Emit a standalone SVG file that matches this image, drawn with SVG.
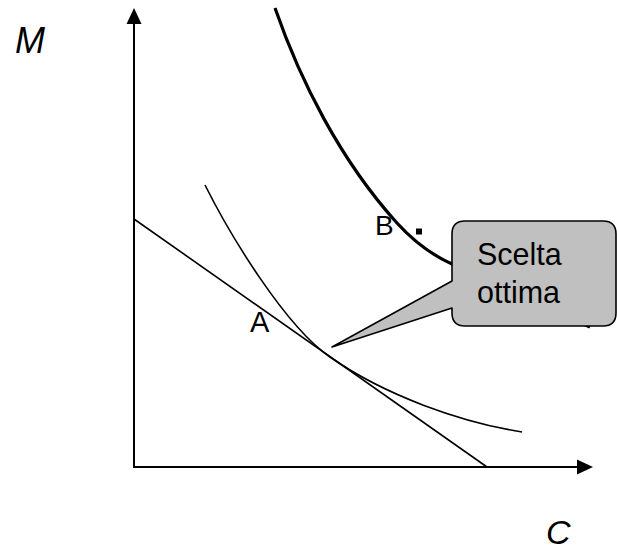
<svg xmlns="http://www.w3.org/2000/svg" width="617" height="550" viewBox="0 0 617 550">
<style>
.lbl{font-family:"Liberation Sans",Arial,sans-serif;fill:#000}
.ax{stroke:#000;stroke-width:2;fill:none}
.thin{stroke:#000;stroke-width:1.6;fill:none}
.thick{stroke:#000;stroke-width:3.2;fill:none}
</style>
<rect width="617" height="550" fill="#fff"/>
<g id="connectors">
  <line id="y-axis" class="ax" x1="134" y1="467" x2="134" y2="22"/>
  <polygon points="134,8 126.5,24 141.5,24" fill="#000"/>
  <line id="x-axis" class="ax" x1="133" y1="467" x2="579" y2="467"/>
  <polygon points="593,467 577,459.5 577,474.5" fill="#000"/>
  <line id="budget" class="thin" x1="134" y1="219" x2="487" y2="467"/>
  <path id="curve-low" class="thin" d="M205,185 C230,235 285,326 330,357 C385,395.4 460,422 522,432"/>
  <path id="curve-high" class="thick" d="M275,8 C300,80 340,160 397,223 C417,245 434,256 452,264 C490,281 550,310 590,327"/>
</g>
<g id="point-B">
  <rect x="416" y="228.5" width="6" height="6" fill="#000"/>
  <text class="lbl" x="375" y="235" font-size="28">B</text>
</g>
<g id="label-A">
  <text class="lbl" x="250" y="332" font-size="29">A</text>
</g>
<g id="callout">
  <path d="M465,221 H603 Q616,221 616,234 V313 Q616,326 603,326 H465 Q452,326 452,313 V308 L332,347 L452,281 V234 Q452,221 465,221 Z" fill="#c0c0c0" stroke="#000" stroke-width="1.6" stroke-linejoin="round"/>
  <text class="lbl" x="477" y="265" font-size="30.5">Scelta</text>
  <text class="lbl" x="477" y="303" font-size="30.5">ottima</text>
</g>
<g id="label-M">
  <text class="lbl" x="15" y="53" font-size="36" font-style="italic">M</text>
</g>
<g id="label-C">
  <text class="lbl" x="546" y="544" font-size="34" font-style="italic">C</text>
</g>
</svg>
